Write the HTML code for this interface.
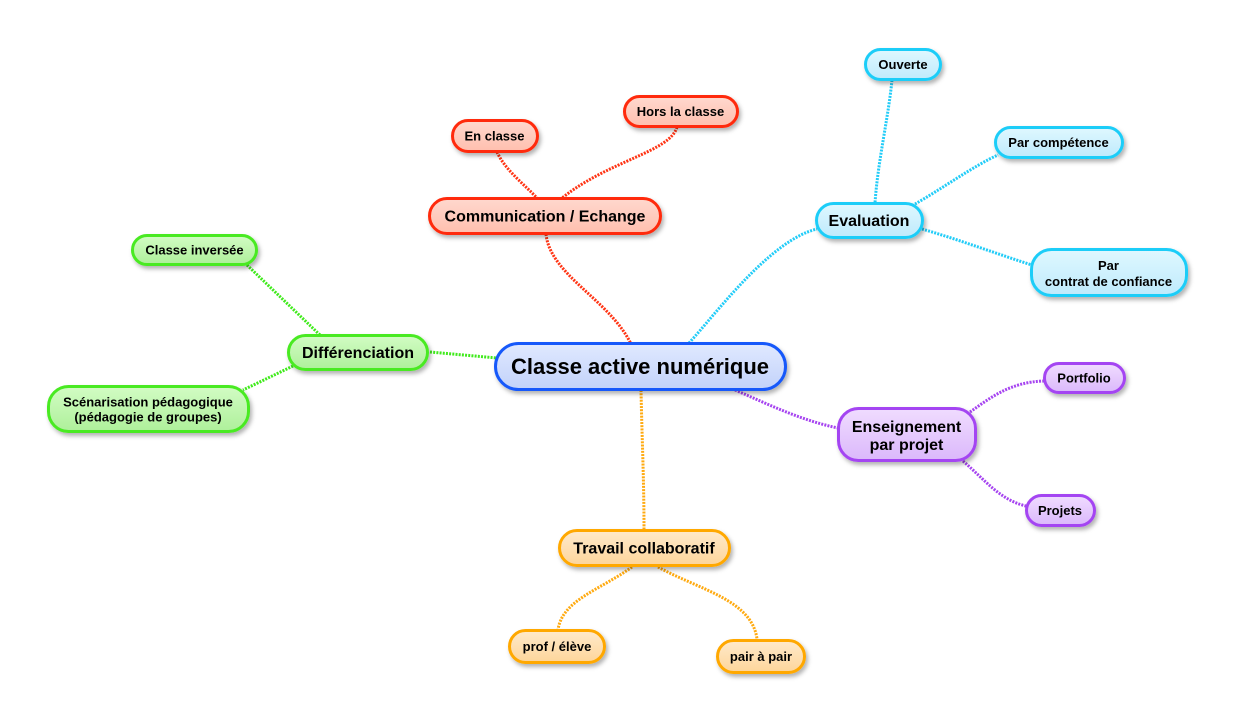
<!DOCTYPE html>
<html><head><meta charset="utf-8"><style>
html,body{margin:0;padding:0;background:#fff;}
svg{display:block;}
text{font-family:"Liberation Sans",Arial,sans-serif;font-weight:bold;fill:#000;text-anchor:middle;}
.l{fill:none;stroke-width:3;stroke-dasharray:2 1.2;}
</style></head><body>
<svg width="1236" height="720" viewBox="0 0 1236 720" xmlns="http://www.w3.org/2000/svg">
<defs>
<filter id="sh" x="-20%" y="-30%" width="140%" height="170%">
<feDropShadow dx="2" dy="3" stdDeviation="2" flood-color="#000" flood-opacity="0.3"/>
</filter>
<linearGradient id="gB" x1="0" y1="0" x2="0" y2="1"><stop offset="0" stop-color="#e0e9ff"/><stop offset="1" stop-color="#c2d2fa"/></linearGradient>
<linearGradient id="gR" x1="0" y1="0" x2="0" y2="1"><stop offset="0" stop-color="#ffd8ce"/><stop offset="1" stop-color="#ffbfae"/></linearGradient>
<linearGradient id="gC" x1="0" y1="0" x2="0" y2="1"><stop offset="0" stop-color="#dff8ff"/><stop offset="1" stop-color="#bfeafc"/></linearGradient>
<linearGradient id="gG" x1="0" y1="0" x2="0" y2="1"><stop offset="0" stop-color="#d2fcc4"/><stop offset="1" stop-color="#aef09a"/></linearGradient>
<linearGradient id="gP" x1="0" y1="0" x2="0" y2="1"><stop offset="0" stop-color="#f0dcff"/><stop offset="1" stop-color="#dbb8fb"/></linearGradient>
<linearGradient id="gO" x1="0" y1="0" x2="0" y2="1"><stop offset="0" stop-color="#ffeacb"/><stop offset="1" stop-color="#fdd59a"/></linearGradient>
</defs>

<!-- connectors -->
<g>
<path class="l" stroke="#ff3414" d="M546,234 C550,275 610,300 631,344"/>
<path class="l" stroke="#ff3414" d="M497,152 C505,170 525,185 537,198"/>
<path class="l" stroke="#ff3414" d="M677,127 C670,152 610,160 562,198"/>
<path class="l" stroke="#22ccf8" d="M689,343 C715,315 770,240 817,229"/>
<path class="l" stroke="#22ccf8" d="M892,80 C888,120 878,160 875,203"/>
<path class="l" stroke="#22ccf8" d="M915,204 C940,190 975,165 998,155"/>
<path class="l" stroke="#22ccf8" d="M922,229 C960,240 1000,255 1032,265"/>
<path class="l" stroke="#40ea1c" d="M320,335 L247,265"/>
<path class="l" stroke="#40ea1c" d="M293,366 L243,390"/>
<path class="l" stroke="#40ea1c" d="M430,352 L497,358"/>
<path class="l" stroke="#a644f0" d="M735,390 C770,405 800,420 838,428"/>
<path class="l" stroke="#a644f0" d="M970,412 C990,398 1010,382 1044,381"/>
<path class="l" stroke="#a644f0" d="M963,461 C985,480 1000,500 1026,506"/>
<path class="l" stroke="#ffaa10" d="M641,390 C642,440 644,480 644,529"/>
<path class="l" stroke="#ffaa10" d="M632,567 C600,590 562,600 558,630"/>
<path class="l" stroke="#ffaa10" d="M658,567 C700,590 752,600 757,639"/>
</g>

<!-- nodes -->
<g filter="url(#sh)" stroke-width="3">
<rect x="495.5" y="343.5" width="290" height="46" rx="23" fill="url(#gB)" stroke="#1458fa"/>
<rect x="429.5" y="198.5" width="231" height="35" rx="17.5" fill="url(#gR)" stroke="#ff2a08"/>
<rect x="452.5" y="120.5" width="85" height="31" rx="15.5" fill="url(#gR)" stroke="#ff2a08"/>
<rect x="624.5" y="96.5" width="113" height="30" rx="15" fill="url(#gR)" stroke="#ff2a08"/>
<rect x="865.5" y="49.5" width="75" height="30" rx="15" fill="url(#gC)" stroke="#1ccdf8"/>
<rect x="995.5" y="127.5" width="127" height="30" rx="15" fill="url(#gC)" stroke="#1ccdf8"/>
<rect x="816.5" y="203.5" width="106" height="34" rx="17" fill="url(#gC)" stroke="#1ccdf8"/>
<rect x="1031.5" y="249.5" width="155" height="46" rx="20" fill="url(#gC)" stroke="#1ccdf8"/>
<rect x="132.5" y="235.5" width="124" height="29" rx="14.5" fill="url(#gG)" stroke="#48ea22"/>
<rect x="288.5" y="335.5" width="139" height="34" rx="17" fill="url(#gG)" stroke="#48ea22"/>
<rect x="48.5" y="386.5" width="200" height="45" rx="20" fill="url(#gG)" stroke="#48ea22"/>
<rect x="838.5" y="408.5" width="137" height="52" rx="20" fill="url(#gP)" stroke="#a444f2"/>
<rect x="1044.5" y="363.5" width="80" height="29" rx="14.5" fill="url(#gP)" stroke="#a444f2"/>
<rect x="1026.5" y="495.5" width="68" height="30" rx="15" fill="url(#gP)" stroke="#a444f2"/>
<rect x="559.5" y="530.5" width="170" height="35" rx="17.5" fill="url(#gO)" stroke="#ffa800"/>
<rect x="509.5" y="630.5" width="95" height="32" rx="16" fill="url(#gO)" stroke="#ffa800"/>
<rect x="717.5" y="640.5" width="87" height="32" rx="16" fill="url(#gO)" stroke="#ffa800"/>
</g>

<!-- labels -->
<text x="640" y="374" font-size="22">Classe active numérique</text>
<text x="545" y="221.5" font-size="16">Communication / Echange</text>
<text x="494.5" y="140.5" font-size="13">En classe</text>
<text x="680.5" y="116" font-size="13">Hors la classe</text>
<text x="903" y="69" font-size="13">Ouverte</text>
<text x="1058.5" y="147" font-size="13">Par compétence</text>
<text x="869" y="226" font-size="16">Evaluation</text>
<text x="1108.5" y="270" font-size="13">Par</text>
<text x="1108.5" y="286" font-size="13">contrat de confiance</text>
<text x="194.5" y="254.5" font-size="13">Classe inversée</text>
<text x="358" y="358" font-size="16">Différenciation</text>
<text x="148" y="406.5" font-size="13">Scénarisation pédagogique</text>
<text x="148" y="421.5" font-size="13">(pédagogie de groupes)</text>
<text x="906.5" y="432" font-size="16">Enseignement</text>
<text x="906.5" y="450" font-size="16">par projet</text>
<text x="1084" y="382.5" font-size="13">Portfolio</text>
<text x="1060" y="515" font-size="13">Projets</text>
<text x="644" y="553.5" font-size="16">Travail collaboratif</text>
<text x="557" y="651" font-size="13">prof / élève</text>
<text x="761" y="661" font-size="13">pair à pair</text>
</svg>
</body></html>
